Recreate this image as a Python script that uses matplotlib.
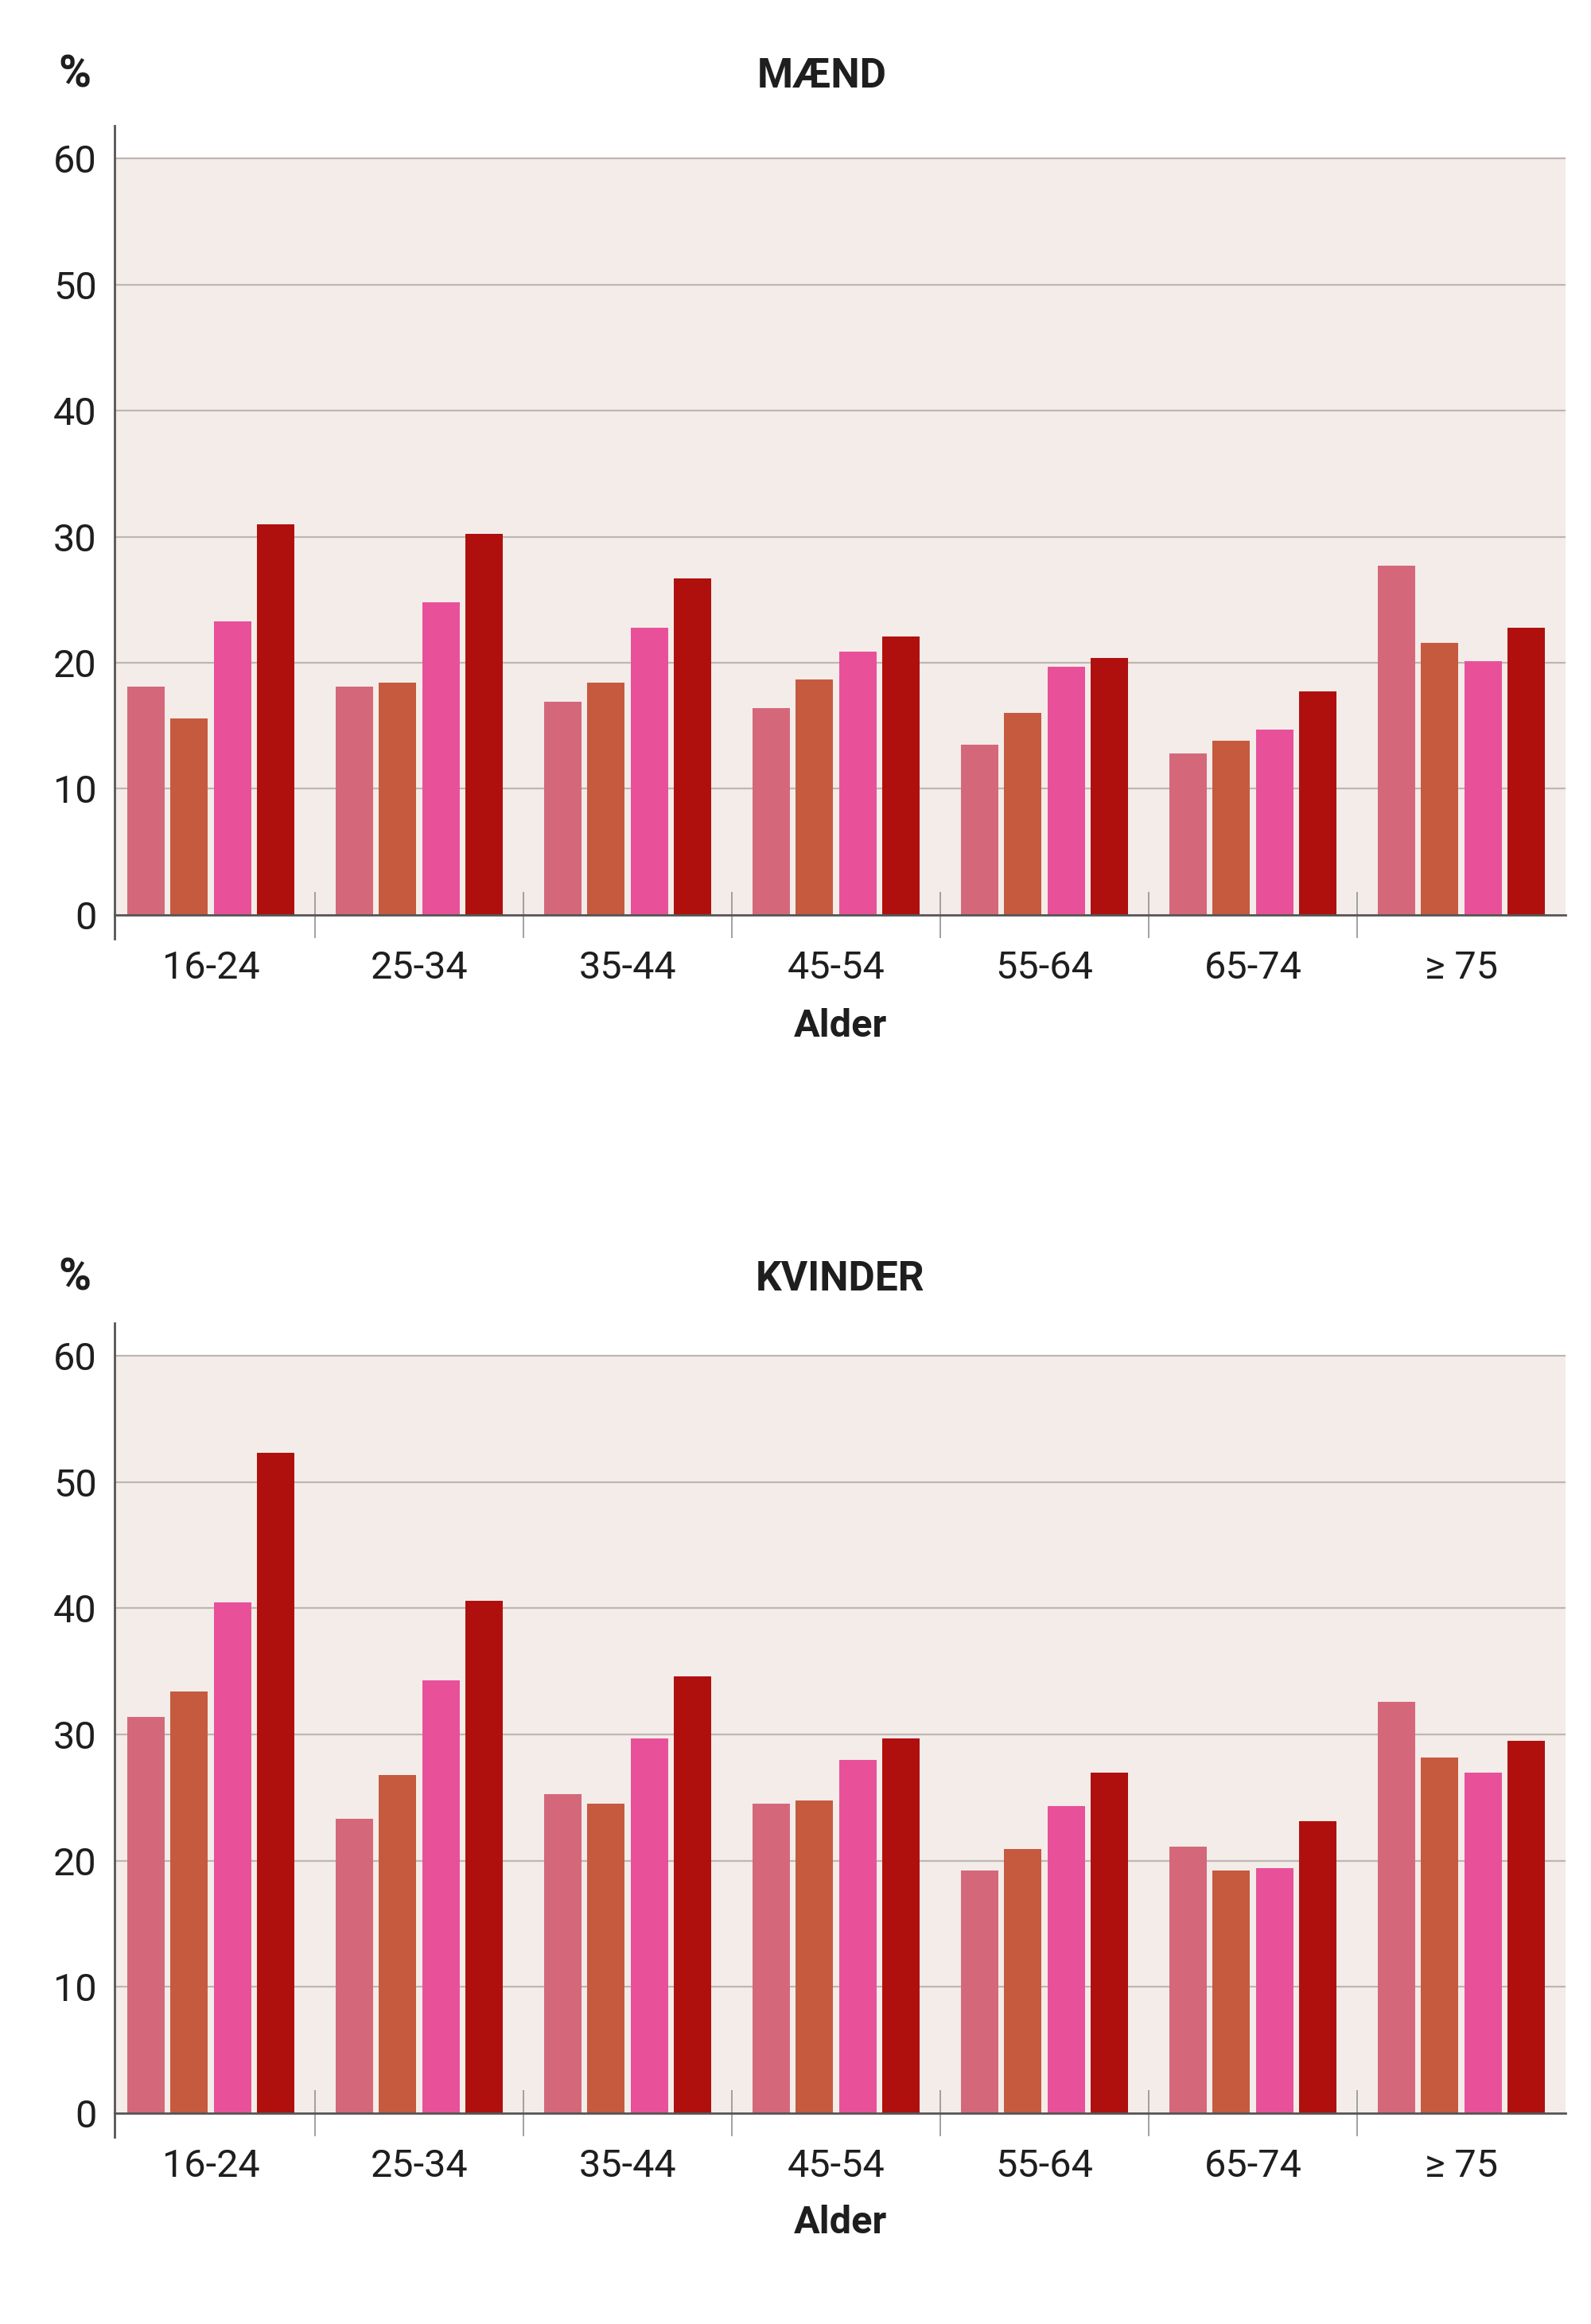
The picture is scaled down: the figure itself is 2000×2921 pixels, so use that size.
import matplotlib
matplotlib.use("Agg")
import matplotlib.pyplot as plt
import numpy as np

plt.rcParams['font.family'] = ['Roboto', 'DejaVu Sans']

aldersgrupper = ['16-24', '25-34', '35-44', '45-54', '55-64', '65-74', '\u2265 75']

# maend, fire serier
maend_1 = [18.1, 18.1, 16.9, 16.4, 13.5, 12.8, 27.7]
maend_2 = [15.6, 18.4, 18.4, 18.7, 16.0, 13.8, 21.6]
maend_3 = [23.3, 24.8, 22.8, 20.9, 19.7, 14.7, 20.1]
maend_4 = [31.0, 30.2, 26.7, 22.1, 20.4, 17.7, 22.8]

# kvinder, fire serier
kvinder_1 = [31.4, 23.3, 25.3, 24.5, 19.2, 21.1, 32.6]
kvinder_2 = [33.4, 26.8, 24.5, 24.8, 20.9, 19.2, 28.2]
kvinder_3 = [40.5, 34.3, 29.7, 28.0, 24.3, 19.4, 27.0]
kvinder_4 = [52.3, 40.6, 34.6, 29.7, 27.0, 23.1, 29.5]

farver = ['#D4687A', '#C65A3F', '#E8519A', '#AF100E']
bg = '#F4ECE9'
txt = '#1E1E1E'
akse = '#555555'

fig = plt.figure(figsize=(20, 29.21), dpi=100)


def panel(rect, serier, titel, tx, ty):
    ax = fig.add_axes(rect)
    ax.set_facecolor('white')
    x = np.arange(len(aldersgrupper))
    bredde = 0.18
    skridt = 0.208
    for i, s in enumerate(serier):
        ax.bar(x + (i - 1.5) * skridt, s, width=bredde, color=farver[i], zorder=3)
    ax.axhspan(0, 60, color=bg, zorder=0, lw=0)
    for v in range(10, 61, 10):
        ax.axhline(v, color='#BEB6B3', lw=1.6, zorder=1)
    ax.set_xlim(-0.462, 6.5)
    ax.set_ylim(-1.9, 62.6)

    ax.set_yticks(range(0, 61, 10))
    ax.set_yticklabels([str(v) for v in range(0, 61, 10)])
    ax.set_yticks([0], minor=True)
    ax.tick_params(axis='y', which='major', length=0, pad=16, labelsize=35, labelcolor=txt)
    ax.tick_params(axis='y', which='minor', direction='inout', length=22, width=1.5, color=akse)

    ax.set_xticks(x[:-1] + 0.5, minor=True)
    ax.set_xticks(x)
    ax.set_xticklabels(aldersgrupper)
    ax.tick_params(axis='x', which='major', length=0, pad=32, labelsize=35, labelcolor=txt)
    ax.tick_params(axis='x', which='minor', direction='inout', length=42, width=1.3, color='#9A9A9A')

    ax.spines['top'].set_visible(False)
    ax.spines['right'].set_visible(False)
    ax.spines['bottom'].set_position(('data', 0))
    ax.spines['bottom'].set_color(akse)
    ax.spines['bottom'].set_linewidth(2)
    ax.spines['bottom'].set_zorder(4)
    ax.spines['left'].set_color(akse)
    ax.spines['left'].set_linewidth(2)
    fig.text(0.047, ty + 0.0005, '%', fontsize=40, fontweight='bold', color=txt, ha='center', va='center')
    fig.text(tx, ty, titel, fontsize=37, fontweight='bold', color=txt, ha='center', va='center')
    return ax


ax1 = panel([0.072, 0.59603, 0.912, 0.34988], [maend_1, maend_2, maend_3, maend_4], 'MÆND', 0.5165, 0.9671)
fig.text(0.528, 0.5585, 'Alder', fontsize=35, fontweight='bold', color=txt, ha='center', va='center')

ax2 = panel([0.072, 0.08045, 0.912, 0.35022], [kvinder_1, kvinder_2, kvinder_3, kvinder_4], 'KVINDER', 0.528, 0.4495)
fig.text(0.528, 0.0435, 'Alder', fontsize=35, fontweight='bold', color=txt, ha='center', va='center')

fig.savefig('out.png', dpi=100, facecolor='white')
